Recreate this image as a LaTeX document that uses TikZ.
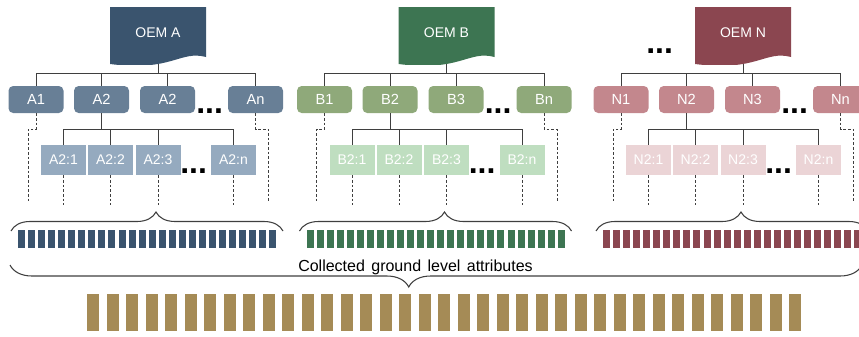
\documentclass[tikz,border=0pt]{standalone}
\usepackage{fontspec}
\setmainfont{Liberation Sans}
\usepackage{tikz}
\usetikzlibrary{positioning}
\usetikzlibrary{decorations.pathreplacing}
\definecolor{oemA}{HTML}{3A546E}
\definecolor{boxA}{HTML}{687F96}
\definecolor{subA}{HTML}{95AABF}
\definecolor{oemB}{HTML}{3D7552}
\definecolor{boxB}{HTML}{8FA97A}
\definecolor{subB}{HTML}{BFDEC0}
\definecolor{oemN}{HTML}{8B4650}
\definecolor{boxN}{HTML}{C3878D}
\definecolor{subN}{HTML}{EBD4D6}
\definecolor{gold}{HTML}{A58B56}
\definecolor{linegray}{HTML}{3F3F3F}
\tikzset{oem/.style={rectangle, minimum width=72pt, minimum height=42.75pt, inner sep=0pt,
  text=white, text depth=3.8pt, font=\fontsize{10.5}{12}\selectfont,
  path picture={\fill[#1] (path picture bounding box.north west) -- (path picture bounding box.north east)
    -- ([yshift=5.25pt]path picture bounding box.south east)
    .. controls ([xshift=-19.5pt,yshift=10.5pt]path picture bounding box.south east)
    and ([xshift=46.5pt,yshift=-6pt]path picture bounding box.south west)
    .. (path picture bounding box.south west) -- cycle;}}}
\tikzset{topbox/.style={rectangle, rounded corners=3.5pt, minimum width=41.25pt, minimum height=20.25pt,
  inner sep=0pt, text=white, font=\fontsize{11}{12}\selectfont}}
\tikzset{subbox/.style={rectangle, minimum width=33.75pt, minimum height=22.5pt,
  inner sep=0pt, text=white, font=\fontsize{10.5}{12}\selectfont}}
\tikzset{conn/.style={draw=linegray, line width=0.6pt}}
\tikzset{dashline/.style={draw=linegray, line width=0.6pt, dash pattern=on 2pt off 1.5pt}}
\tikzset{ellip/.style={anchor=base west, inner sep=0pt, font=\fontsize{24}{24}\selectfont\bfseries}}
\tikzset{grpbrace/.style={draw=linegray, line width=0.8pt, decorate, decoration={brace, amplitude=14.25pt, aspect=0.533}}}
\tikzset{bigbrace/.style={draw=linegray, line width=0.8pt, decorate, decoration={brace, amplitude=16.5pt, aspect=0.532}}}
\begin{document}
\begin{tikzpicture}[x=0.75pt,y=-0.75pt]
\useasboundingbox (0,0) rectangle (859,336);
\foreach \g/\dx/\third in {A/36/2, B/324.5/3, N/621/3} {
\node[oem=oem\g] (oem\g) at (\dx+122,35.5) {OEM \g};
\foreach \i/\xx/\lab in {1/0/1, 2/65.5/2, 3/131.5/\third, n/219.5/n} {
\node[topbox, fill=box\g] (\g\i) at (\dx+\xx,99.5) {\g\lab};
\draw[conn] (oem\g.south) -- ++(0,9) -| (\g\i.north);
}
\foreach \i/\xx in {1/27.5, 2/74.5, 3/122, n/197.5} {
\node[subbox, fill=sub\g] (\g2s\i) at (\dx+\xx,160) {\g2:\i};
\draw[conn] (\g2.south) -- ++(0,16) -| (\g2s\i.north);
\draw[dashline] (\g2s\i.south) -- ++(0,30);
}
\draw[dashline] (\g1.south) -- ++(0,16) -- ++(-8,0) -- ++(0,73);
\draw[dashline] (\g n.south) -- ++(0,16) -- ++(13,0) -- ++(0,73);
\node[ellip] (\g dots) at (\dx+160,113) {...};
\node[ellip] (\g subdots) at (\dx+144,173) {...};
\coordinate (\g bl) at (\dx-25,231);
\coordinate (\g br) at (\dx+247,231);
\draw[grpbrace] (\g bl) -- (\g br);
\foreach \k in {0,...,25} {
\fill[oem\g] (\dx-18+\k*10.05,230) rectangle ++(7,18);
}
}
\node[ellip] (moredots) at (646,53) {...};
\coordinate (allR) at (862,265);
\coordinate (allL) at (10,265);
\draw[bigbrace] (allR) -- (allL);
\node[anchor=base, inner sep=0pt, font=\fontsize{12}{14}\selectfont] (collected) at (415.5,271.5) {\spaceskip=4.8pt\relax Collected ground level attributes};
\foreach \k in {0,...,36} {
\fill[gold] (87+\k*19.5,294) rectangle ++(12,37);
}
\end{tikzpicture}
\end{document}
